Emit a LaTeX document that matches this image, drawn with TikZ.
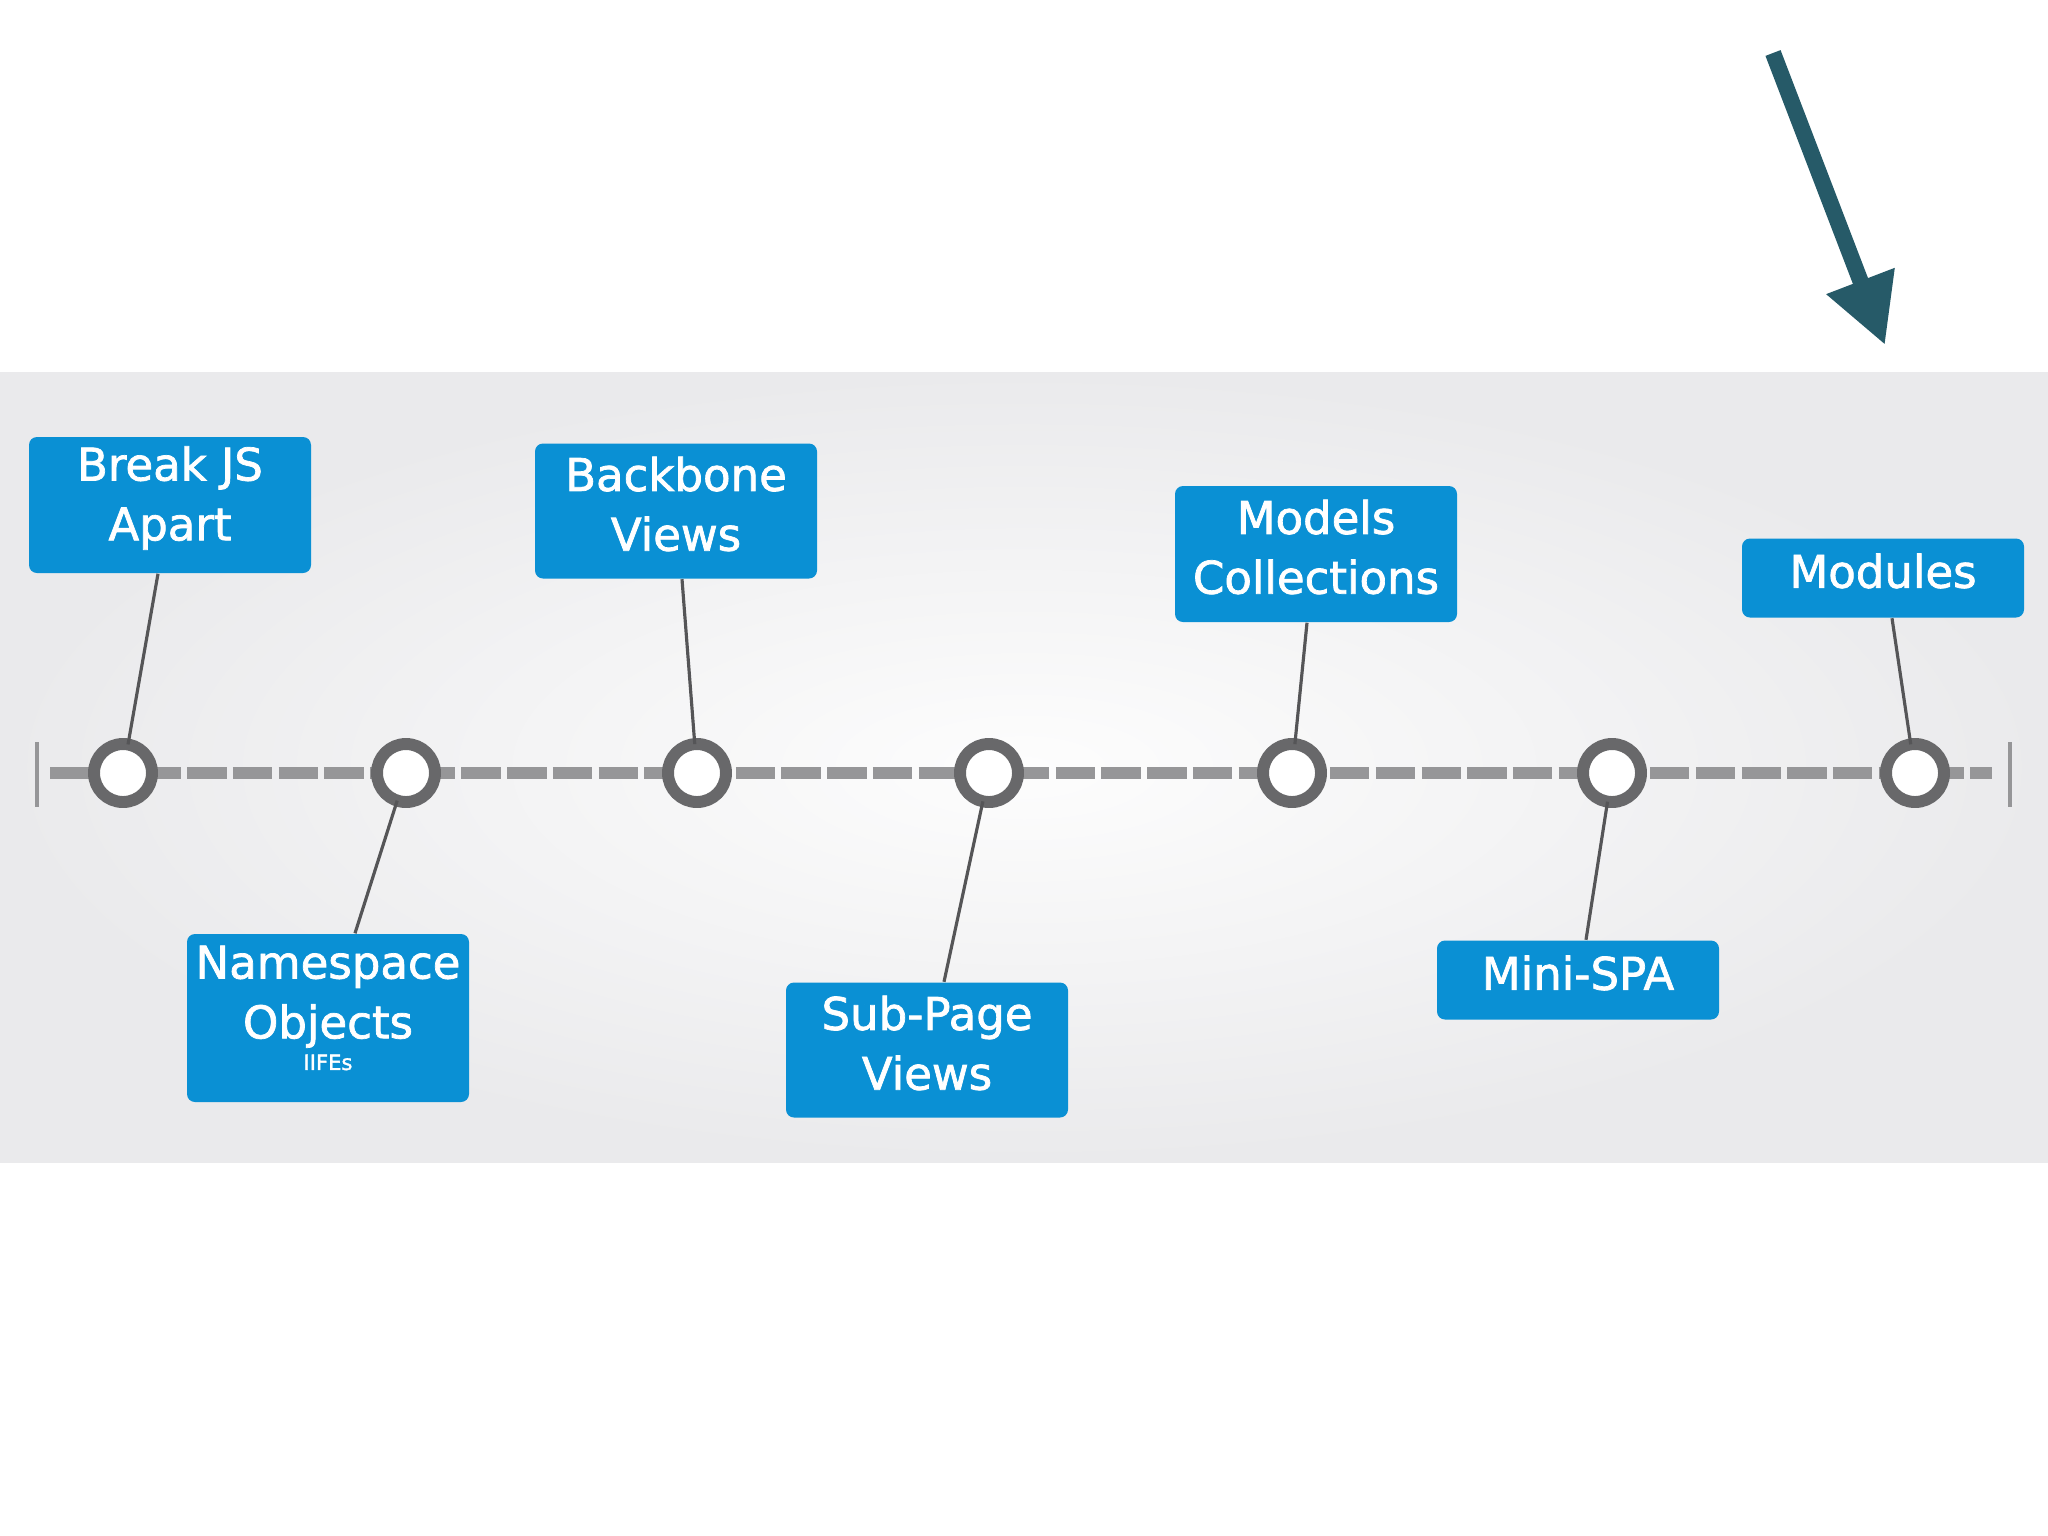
\documentclass[tikz,border=0pt]{standalone}
\usepackage{fontspec}
\setmainfont{DejaVu Sans}
\newfontface\boxfont{DejaVu Sans}[FakeBold=1.6]
\usetikzlibrary{calc,arrows.meta}
\definecolor{boxblue}{RGB}{10,144,212}
\definecolor{ringgray}{RGB}{104,104,106}
\definecolor{linegray}{RGB}{150,150,152}
\definecolor{conngray}{RGB}{85,85,87}
\definecolor{arrowteal}{RGB}{38,90,104}
\definecolor{bandin}{RGB}{253,253,253}
\definecolor{bandout}{RGB}{234,234,236}
\tikzset{
  stagebox/.style={rectangle, rounded corners=8*0.01cm, fill=boxblue,
    minimum width=282*0.01cm, inner sep=0pt},
  stagetext/.style={text=white, inner sep=0pt, align=center,
    font=\boxfont\fontsize{12.8pt}{17pt}\selectfont},
  milestone/.style={circle, draw=ringgray, line width=3.4pt, fill=white,
    minimum size=58*0.01cm, inner sep=0pt, outer sep=0pt},
  conn/.style={draw=conngray, line width=0.9pt},
  timeline/.style={draw=linegray, line width=3.4pt, dash pattern=on 11.2pt off 1.8pt},
  tick/.style={draw=linegray, line width=1.4pt}
}
\begin{document}
\begin{tikzpicture}[x=0.01cm,y=-0.01cm]
\useasboundingbox (0,0) rectangle (2048,1536);
\fill[white] (0,0) rectangle (2048,1536);
\shade[inner color=bandin, outer color=bandout] (0,372) rectangle (2048,1162);

% timeline
\coordinate (tl) at (50,773);
\coordinate (tr) at (1992,773);
\draw[timeline] (tl) -- (tr);
\coordinate (tk1a) at (37,742); \coordinate (tk1b) at (37,807);
\coordinate (tk2a) at (2010,742); \coordinate (tk2b) at (2010,807);
\draw[tick] (tk1a) -- (tk1b);
\draw[tick] (tk2a) -- (tk2b);

% boxes
\node[stagebox, minimum height=136*0.01cm] (b1) at (170,505) {};
\node[stagebox, minimum height=168*0.01cm] (b2) at (328,1018) {};
\node[stagebox, minimum height=135*0.01cm] (b3) at (676,511) {};
\node[stagebox, minimum height=135*0.01cm] (b4) at (927,1050) {};
\node[stagebox, minimum height=136*0.01cm] (b5) at (1316,554) {};
\node[stagebox, minimum height=79*0.01cm] (b6) at (1578,980) {};
\node[stagebox, minimum height=79*0.01cm] (b7) at (1883,578) {};

% box texts
\node[stagetext] (t1) at ($(b1.center)+(0,-7)$) {Break JS\\Apart};
\node[stagetext] (t2) at ($(b2.center)+(0,-10)$) {Namespace\\Objects\\[-8pt]{\fontsize{6pt}{7pt}\selectfont IIFEs}};
\node[stagetext] (t3) at ($(b3.center)+(0,-7)$) {Backbone\\Views};
\node[stagetext] (t4) at ($(b4.center)+(0,-7)$) {Sub-Page\\Views};
\node[stagetext] (t5) at ($(b5.center)+(0,-7)$) {Models\\Collections};
\node[stagetext] (t6) at ($(b6.center)+(0,-7)$) {Mini-SPA};
\node[stagetext] (t7) at ($(b7.center)+(0,-7)$) {Modules};

% milestones
\node[milestone] (c1) at (123,773) {};
\node[milestone] (c2) at (406,773) {};
\node[milestone] (c3) at (697,773) {};
\node[milestone] (c4) at (989,773) {};
\node[milestone] (c5) at (1292,773) {};
\node[milestone] (c6) at (1612,773) {};
\node[milestone] (c7) at (1915,773) {};

% connectors
\draw[conn] ($(b1.south)+(-12,0)$) -- (c1);
\draw[conn] ($(b2.north)+(27,0)$) -- (c2);
\draw[conn] ($(b3.south)+(6,0)$) -- (c3);
\draw[conn] ($(b4.north)+(17,0)$) -- (c4);
\draw[conn] ($(b5.south)+(-9,0)$) -- (c5);
\draw[conn] ($(b6.north)+(8,0)$) -- (c6);
\draw[conn] ($(b7.south)+(9,0)$) -- (c7);

% pointer arrow
\coordinate (as) at (1773,53);
\coordinate (ae) at (1885,345);
\draw[draw=arrowteal, line width=4.6pt, -{Triangle[length=19.5pt,width=19.5pt,fill=arrowteal]}] (as) -- (ae);
\end{tikzpicture}
\end{document}
